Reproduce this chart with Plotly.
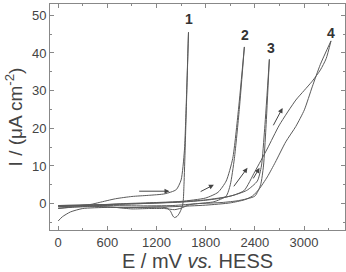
import plotly.graph_objects as go

# Curve 1
c1_fwd_E = [0, 200, 400, 500, 700, 900, 1100, 1300, 1440, 1500, 1540, 1565, 1590]
c1_fwd_I = [-0.8, -0.6, -0.2, 0.3, 1.3, 1.9, 2.2, 2.6, 3.7, 6.3, 14, 28, 45.5]
c1_rev_E = [1590, 1570, 1550, 1535, 1525, 1510, 1480, 1450, 1420, 1400, 1370, 1330, 1250, 1000, 800, 600, 400, 200, 0]
c1_rev_I = [45.5, 30, 15, 5, 0.5, -1, -2.5, -3.4, -3.7, -3.3, -2, -1.2, -0.9, -1.0, -1.1, -0.9, -0.8, -0.9, -1.2]

# Curve 2
c2_fwd_E = [0, 400, 800, 1200, 1500, 1800, 1950, 2050, 2130, 2200, 2272]
c2_fwd_I = [-0.6, -0.4, 0.0, 0.3, 0.6, 1.5, 3.0, 6.0, 12, 25, 41.6]
c2_rev_E = [2272, 2210, 2150, 2100, 2050, 1900, 1700, 1600, 1500, 1420, 1300, 1100, 900, 700, 400, 200, 0]
c2_rev_I = [41.6, 25, 12, 5, 2, 0.5, 0.0, -0.3, -1.2, -1.6, -1.3, -1.3, -1.4, -1.0, -0.7, -0.9, -1.3]

# Curve 3
c3_fwd_E = [0, 500, 1000, 1500, 1800, 2100, 2300, 2430, 2480, 2520, 2577]
c3_fwd_I = [-0.5, -0.3, 0.0, 0.5, 1.0, 2.0, 3.5, 6.0, 10, 20, 38.3]
c3_rev_E = [2577, 2535, 2505, 2470, 2400, 2200, 2000, 1700, 1400, 1000, 500, 0]
c3_rev_I = [38.3, 20, 10, 5, 2, 0.8, 0.3, 0.0, -0.5, -0.6, -0.5, -0.8]

# Curve 4
c4_fwd_E = [0, 500, 1000, 1500, 1800, 2000, 2150, 2270, 2400, 2550, 2700, 2900, 3000, 3100, 3200, 3270, 3329]
c4_fwd_I = [-0.5, -0.3, 0.0, 0.4, 0.9, 1.5, 2.3, 3.5, 8.5, 14.5, 20.9, 27.5, 30, 32.5, 35.5, 38.5, 43.2]
c4_rev_E = [3329, 3200, 3100, 3004, 2900, 2777, 2650, 2552, 2450, 2370, 2270, 2100, 1800, 1400, 1000, 600, 300, 150, 50, 0]
c4_rev_I = [43.2, 37, 31, 24.9, 20.5, 16.4, 11.0, 7.1, 3.8, 2.0, 1.0, 0.2, -0.4, -0.8, -1.0, -1.0, -1.3, -2.2, -3.5, -4.6]

curve_labels = ["1", "2", "3", "4"]
label_E = [1591, 2285, 2597, 3329]
label_I = [48.9, 44.7, 41.2, 45.4]

# arrows: (tail E, tail I, head E, head I)
arrow_tail_E = [970, 1720, 2130, 2370, 2616]
arrow_tail_I = [3.3, 3.0, 4.2, 6.3, 20.4]
arrow_head_E = [1358, 1900, 2310, 2457, 2738]
arrow_head_I = [3.3, 5.0, 9.5, 9.5, 25.4]

x_ticks = [0, 600, 1200, 1800, 2400, 3000]
y_ticks = [0, 10, 20, 30, 40, 50]

font_fam = "Liberation Sans, Arial"
line_color = "#5a5a5a"
fig = go.Figure()
for E, I in [(c1_fwd_E, c1_fwd_I), (c1_rev_E, c1_rev_I), (c2_fwd_E, c2_fwd_I), (c2_rev_E, c2_rev_I),
             (c3_fwd_E, c3_fwd_I), (c3_rev_E, c3_rev_I), (c4_fwd_E, c4_fwd_I), (c4_rev_E, c4_rev_I)]:
    fig.add_trace(go.Scatter(x=E, y=I, mode="lines", line=dict(color=line_color, width=1, shape="spline", smoothing=0.6),
                             showlegend=False, hoverinfo="skip"))

for t, e, i in zip(curve_labels, label_E, label_I):
    fig.add_annotation(x=e, y=i, text="<b>" + t + "</b>", showarrow=False,
                       font=dict(family=font_fam, size=14, color="#333"))

for te, ti, he, hi in zip(arrow_tail_E, arrow_tail_I, arrow_head_E, arrow_head_I):
    fig.add_annotation(x=he, y=hi, ax=te, ay=ti, xref="x", yref="y", axref="x", ayref="y",
                       text="", showarrow=True, arrowhead=2, arrowsize=1, arrowwidth=1, arrowcolor="#444")

axis_common = dict(showline=True, linecolor="#888", linewidth=1, mirror="allticks", ticks="inside",
                   ticklen=4, tickcolor="#888", showgrid=False, zeroline=False,
                   tickfont=dict(family=font_fam, size=13, color="#444"))

fig.update_xaxes(range=[-100, 3500], tickvals=x_ticks, **axis_common,
                 minor=dict(dtick=300, tick0=0, ticks="inside", ticklen=2, tickcolor="#888", showgrid=False),
                 title=dict(text="E / mV <i>vs.</i> HESS", font=dict(family=font_fam, size=20, color="#444"), standoff=2))
fig.update_yaxes(range=[-7, 53], tickvals=y_ticks, **axis_common,
                 minor=dict(dtick=5, tick0=0, ticks="inside", ticklen=2, tickcolor="#888", showgrid=False),
                 title=dict(text="I / (μA cm<sup>-2</sup>)", font=dict(family=font_fam, size=19, color="#444"), standoff=4))

fig.update_layout(width=346, height=272, margin=dict(l=50, r=1, t=4, b=42),
                  paper_bgcolor="white", plot_bgcolor="white")
fig.write_html("out.html")
